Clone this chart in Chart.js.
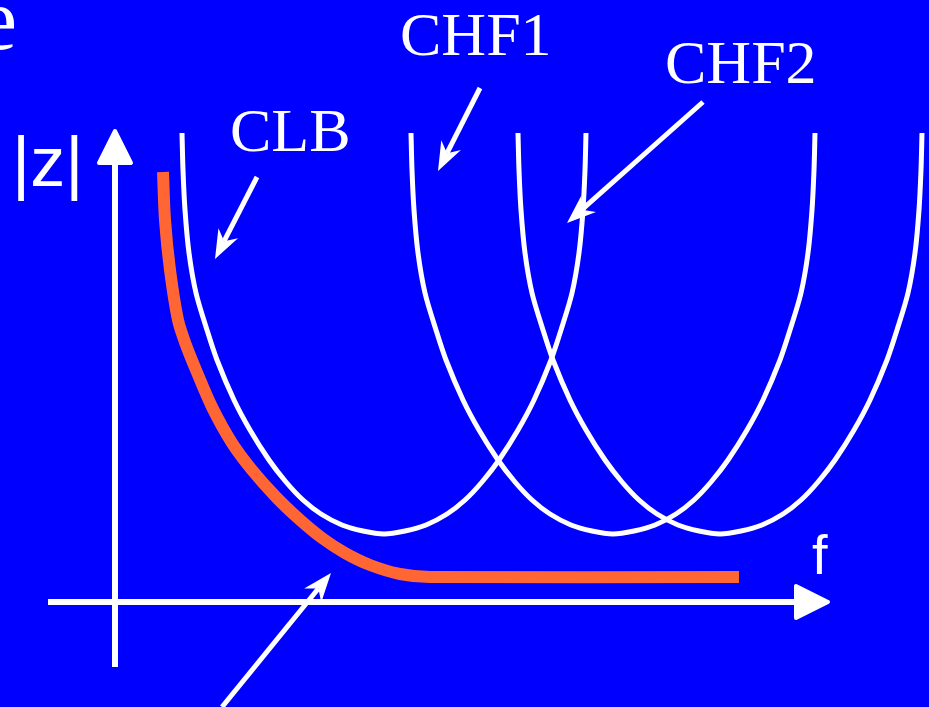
<!DOCTYPE html>
<html>
<head>
<meta charset="utf-8">
<script src="https://cdn.jsdelivr.net/npm/chart.js@4"></script>
<style>
  html, body { margin: 0; padding: 0; background: #0000ff; overflow: hidden; }
  canvas { display: block; }
</style>
</head>
<body>
<canvas id="chart" width="929" height="707"></canvas>
<script>
// frequency (f) and impedance (|z|), arbitrary units
const clbF = [6.7, 6.8, 7.0, 7.4, 8.1, 9.2, 10.2, 11.9, 13.5, 15.4, 17.1, 18.8, 20.6, 22.7, 24.8, 26.9,
  29.0, 31.1, 33.2, 35.0, 36.7, 38.4, 40.3, 41.9, 43.6, 44.6, 45.7, 46.4, 46.8, 47.0, 47.1];
const clbZ = [46.9, 43.2, 39.2, 34.9, 30.9, 27.2, 24.2, 20.2, 17.2, 14.2, 12.0, 10.2, 8.8, 7.7, 7.1, 6.8,
  7.1, 7.7, 8.8, 10.2, 12.0, 14.2, 17.2, 20.2, 24.2, 27.2, 30.9, 34.9, 39.2, 43.2, 46.9];

const chf1F = [29.6, 29.7, 29.9, 30.3, 31.0, 32.1, 33.1, 34.8, 36.4, 38.3, 40.0, 41.7, 43.5, 45.6, 47.7, 49.8,
  51.9, 54.0, 56.1, 57.9, 59.6, 61.3, 63.2, 64.8, 66.5, 67.5, 68.6, 69.3, 69.7, 69.9, 70.0];
const chf1Z = [46.9, 43.2, 39.2, 34.9, 30.9, 27.2, 24.2, 20.2, 17.2, 14.2, 12.0, 10.2, 8.8, 7.7, 7.1, 6.8,
  7.1, 7.7, 8.8, 10.2, 12.0, 14.2, 17.2, 20.2, 24.2, 27.2, 30.9, 34.9, 39.2, 43.2, 46.9];

const chf2F = [40.3, 40.4, 40.6, 41.0, 41.7, 42.8, 43.8, 45.5, 47.1, 49.0, 50.7, 52.4, 54.2, 56.3, 58.4, 60.5,
  62.6, 64.7, 66.8, 68.6, 70.3, 72.0, 73.9, 75.5, 77.2, 78.2, 79.3, 80.0, 80.4, 80.6, 80.7];
const chf2Z = [46.9, 43.2, 39.2, 34.9, 30.9, 27.2, 24.2, 20.2, 17.2, 14.2, 12.0, 10.2, 8.8, 7.7, 7.1, 6.8,
  7.1, 7.7, 8.8, 10.2, 12.0, 14.2, 17.2, 20.2, 24.2, 27.2, 30.9, 34.9, 39.2, 43.2, 46.9];

// resulting (parallel) impedance, orange
const totalF = [4.8, 5.0, 5.5, 6.3, 7.1, 8.1, 9.7, 11.7, 13.7, 16.1, 18.4, 20.7, 23.0, 25.5, 28.5, 31.5, 62.4];
const totalZ = [43.0, 38.2, 33.2, 28.2, 25.7, 23.2, 19.5, 15.9, 13.2, 10.5, 8.3, 6.4, 4.9, 3.7, 2.8, 2.5, 2.5];

// labels and pointer arrows (f, |z|)
const labelText = ['CLB', 'CHF1', 'CHF2'];
const labelAt = [[11.5, 45.1], [28.5, 54.7], [55.0, 51.9]];
const pointerFrom = [[14.2, 42.5], [36.5, 51.4], [58.8, 50.0], [10.7, -10.5]];
const pointerTo = [[10.0, 34.3], [32.3, 43.1], [45.2, 37.9], [21.6, 2.9]];

const toPoints = (fs, zs) => fs.map((f, i) => ({ x: f, y: zs[i] }));

const BLUE = '#0000ff';
const WHITE = '#ffffff';
const ORANGE = '#ff6633';

const drawPointer = (ctx, x0, y0, x1, y1) => {
  const dx = x1 - x0;
  const dy = y1 - y0;
  const len = Math.hypot(dx, dy);
  const ux = dx / len;
  const uy = dy / len;
  const px = -uy;
  const py = ux;
  const headLen = 29;
  const notch = 20;
  const half = 11;
  ctx.save();
  ctx.strokeStyle = WHITE;
  ctx.fillStyle = WHITE;
  ctx.lineWidth = 5;
  ctx.beginPath();
  ctx.moveTo(x0, y0);
  ctx.lineTo(x1 - ux * notch, y1 - uy * notch);
  ctx.stroke();
  ctx.beginPath();
  ctx.moveTo(x1, y1);
  ctx.lineTo(x1 - ux * headLen + px * half, y1 - uy * headLen + py * half);
  ctx.lineTo(x1 - ux * notch, y1 - uy * notch);
  ctx.lineTo(x1 - ux * headLen - px * half, y1 - uy * headLen - py * half);
  ctx.closePath();
  ctx.fill();
  ctx.restore();
};

const sketchPlugin = {
  id: 'sketch',
  beforeDraw(chart) {
    const { ctx, width, height } = chart;
    ctx.save();
    ctx.fillStyle = BLUE;
    ctx.fillRect(0, 0, width, height);
    ctx.restore();
  },
  beforeDatasetsDraw(chart) {
    const { ctx } = chart;
    const xs = chart.scales.x;
    const ys = chart.scales.y;
    const x0 = xs.getPixelForValue(0);
    const y0 = ys.getPixelForValue(0);
    ctx.save();
    ctx.strokeStyle = WHITE;
    ctx.fillStyle = WHITE;
    ctx.lineWidth = 6;
    ctx.lineJoin = 'round';

    // |z| axis
    const yTip = ys.getPixelForValue(47.3);
    ctx.beginPath();
    ctx.moveTo(x0, ys.getPixelForValue(-6.5));
    ctx.lineTo(x0, yTip + 30);
    ctx.stroke();
    ctx.beginPath();
    ctx.moveTo(x0, yTip + 2);
    ctx.lineTo(x0 + 16, yTip + 34);
    ctx.lineTo(x0 - 16, yTip + 34);
    ctx.closePath();
    ctx.lineWidth = 4;
    ctx.stroke();
    ctx.fill();

    // f axis
    const xTip = xs.getPixelForValue(71.5);
    ctx.lineWidth = 6;
    ctx.beginPath();
    ctx.moveTo(xs.getPixelForValue(-6.7), y0);
    ctx.lineTo(xTip - 30, y0);
    ctx.stroke();
    ctx.beginPath();
    ctx.moveTo(xTip - 2, y0);
    ctx.lineTo(xTip - 34, y0 - 16);
    ctx.lineTo(xTip - 34, y0 + 16);
    ctx.closePath();
    ctx.lineWidth = 4;
    ctx.stroke();
    ctx.fill();
    ctx.restore();
  },
  afterDatasetsDraw(chart) {
    const { ctx } = chart;
    const xs = chart.scales.x;
    const ys = chart.scales.y;
    const px = (f) => xs.getPixelForValue(f);
    const py = (z) => ys.getPixelForValue(z);

    pointerFrom.forEach((from, i) => {
      const to = pointerTo[i];
      drawPointer(ctx, px(from[0]), py(from[1]), px(to[0]), py(to[1]));
    });

    ctx.save();
    ctx.fillStyle = WHITE;
    ctx.textBaseline = 'alphabetic';
    ctx.font = '62px "Liberation Serif", "Times New Roman", serif';
    ctx.textAlign = 'left';
    labelText.forEach((t, i) => {
      ctx.fillText(t, px(labelAt[i][0]), py(labelAt[i][1]));
    });

    // tail of the slide title, cut off at the left edge
    ctx.font = '88px "Liberation Serif", "Times New Roman", serif';
    ctx.textAlign = 'right';
    ctx.fillText('e', 17, 49);

    ctx.textAlign = 'left';
    ctx.font = '70px "Liberation Sans", Arial, sans-serif';
    ctx.fillText('|z|', px(-10.3), py(41.6));
    ctx.font = '56px "Liberation Sans", Arial, sans-serif';
    ctx.fillText('f', px(69.7), py(2.8));
    ctx.restore();
  },
};

const curve = (fs, zs, color, width) => ({
  data: toPoints(fs, zs),
  showLine: true,
  borderColor: color,
  borderWidth: width,
  pointRadius: 0,
  tension: 0.3,
  fill: false,
});

new Chart(document.getElementById('chart'), {
  type: 'scatter',
  data: {
    datasets: [
      curve(clbF, clbZ, WHITE, 5),
      curve(chf1F, chf1Z, WHITE, 5),
      curve(chf2F, chf2Z, WHITE, 5),
      { ...curve(totalF, totalZ, ORANGE, 12), borderCapStyle: 'butt', borderJoinStyle: 'round' },
    ],
  },
  options: {
    responsive: false,
    animation: false,
    devicePixelRatio: 1,
    layout: { padding: 0 },
    scales: {
      x: { type: 'linear', display: false, min: -11.5, max: 81.4 },
      y: { type: 'linear', display: false, min: -10.5, max: 60.2 },
    },
    plugins: {
      legend: { display: false },
      tooltip: { enabled: false },
    },
  },
  plugins: [sketchPlugin],
});
</script>
</body>
</html>
